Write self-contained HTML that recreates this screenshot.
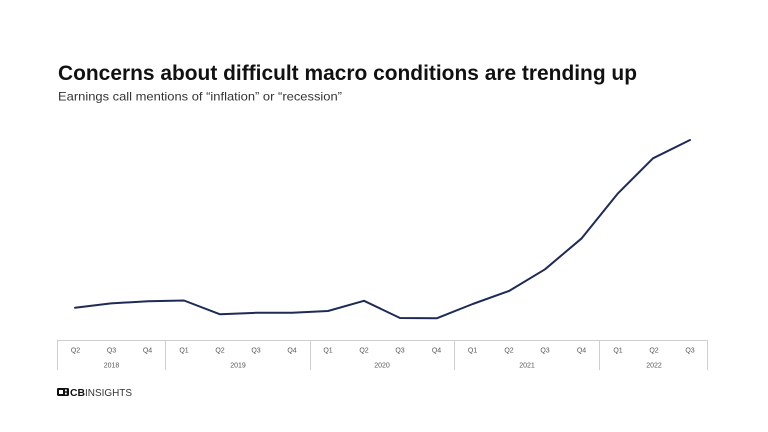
<!DOCTYPE html>
<html><head><meta charset="utf-8">
<style>
html,body{margin:0;padding:0;background:#fff;}
svg{display:block;}
</style></head>
<body>
<svg width="768" height="432" viewBox="0 0 768 432" xmlns="http://www.w3.org/2000/svg">
<rect width="768" height="432" fill="#fff"/>
<text x="58" y="80" font-family="Liberation Sans, sans-serif" font-weight="bold" font-size="21.5" fill="#111" textLength="579" lengthAdjust="spacingAndGlyphs">Concerns about difficult macro conditions are trending up</text>
<text x="58" y="100.5" font-family="Liberation Sans, sans-serif" font-size="12" fill="#333" textLength="284" lengthAdjust="spacingAndGlyphs">Earnings call mentions of “inflation” or “recession”</text>

<polyline fill="none" stroke="#1f2b57" stroke-width="2" stroke-linejoin="round" stroke-linecap="round"
points="75,307.7 111,303.4 148,301.2 184,300.5 220,314.3 256,312.8 292,312.8 328,311 364,300.8 400,318 436.7,318.3 472.7,304 509,291 545,269.3 581.7,238.3 618,193.3 653,158.3 690,140"/>

<g stroke="#cfcfcf" stroke-width="1" fill="none">
<line x1="57" y1="340.5" x2="708" y2="340.5"/>
<line x1="57.5" y1="340" x2="57.5" y2="370"/>
<line x1="165.5" y1="340" x2="165.5" y2="370"/>
<line x1="310.5" y1="340" x2="310.5" y2="370"/>
<line x1="454.5" y1="340" x2="454.5" y2="370"/>
<line x1="599.5" y1="340" x2="599.5" y2="370"/>
<line x1="707.5" y1="340" x2="707.5" y2="370"/>
</g>
<g font-family="Liberation Sans, sans-serif" font-size="7" fill="#555" text-anchor="middle">
<text x="75.5" y="352.5">Q2</text>
<text x="111.5" y="352.5">Q3</text>
<text x="147.5" y="352.5">Q4</text>
<text x="184" y="352.5">Q1</text>
<text x="220" y="352.5">Q2</text>
<text x="256" y="352.5">Q3</text>
<text x="292" y="352.5">Q4</text>
<text x="328" y="352.5">Q1</text>
<text x="364" y="352.5">Q2</text>
<text x="400" y="352.5">Q3</text>
<text x="436.5" y="352.5">Q4</text>
<text x="472.5" y="352.5">Q1</text>
<text x="509" y="352.5">Q2</text>
<text x="545" y="352.5">Q3</text>
<text x="581.5" y="352.5">Q4</text>
<text x="618" y="352.5">Q1</text>
<text x="654" y="352.5">Q2</text>
<text x="690" y="352.5">Q3</text>
<text x="111.5" y="367.5">2018</text>
<text x="238" y="367.5">2019</text>
<text x="382" y="367.5">2020</text>
<text x="527" y="367.5">2021</text>
<text x="654" y="367.5">2022</text>
</g>

<g>
<rect x="57" y="388" width="12" height="8" rx="1.2" fill="#111"/>
<rect x="59" y="390" width="4" height="4" fill="#fff"/>
<rect x="65" y="389.5" width="1.8" height="1.8" fill="#fff"/>
<rect x="65" y="392.7" width="1.8" height="1.8" fill="#fff"/>
<text x="70" y="396" font-family="Liberation Sans, sans-serif" font-size="10.5" font-weight="bold" fill="#111" textLength="15" lengthAdjust="spacingAndGlyphs">CB</text>
<text x="85" y="396" font-family="Liberation Sans, sans-serif" font-size="10.5" fill="#333" textLength="47" lengthAdjust="spacingAndGlyphs">INSIGHTS</text>
</g>
</svg>
</body></html>
